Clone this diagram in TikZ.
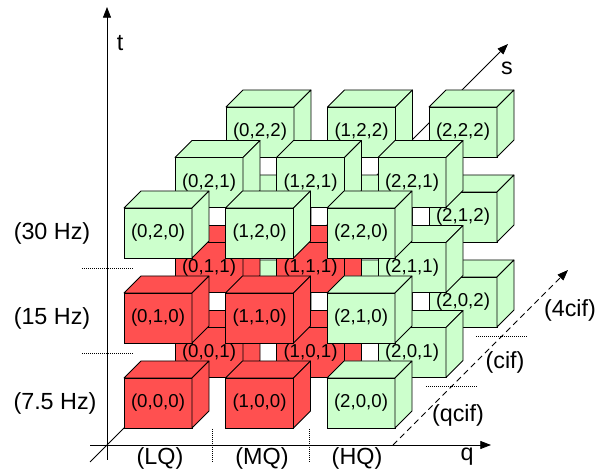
\documentclass[tikz,border=0pt]{standalone}
\usepackage{fontspec}
\setmainfont{Liberation Sans}
\usetikzlibrary{arrows.meta}
\definecolor{cgreen}{HTML}{CCFFCC}
\definecolor{cred}{HTML}{FF5050}
\begin{document}
\begin{tikzpicture}[x=0.75pt,y=-0.75pt,
  facefront/.style={draw=black, line width=0.6pt, minimum width=51pt, minimum height=37.5pt,
    inner sep=0pt, outer sep=0pt, font=\fontsize{14}{16}\selectfont, anchor=north west},
  face/.style={draw=black, line width=0.6pt, line join=round},
  axisline/.style={line width=0.6pt, -{Triangle[length=8pt,width=6pt]}},
  tickline/.style={dash pattern=on 0.75pt off 0.75pt, line width=0.75pt},
  lab/.style={font=\fontsize{17.5}{20}\selectfont, inner sep=0pt}]
\useasboundingbox (0,0) rectangle (597,473);
% axes
\coordinate (sS) at (90,462);
\coordinate (sE) at (508,44);
\coordinate (tS) at (107,460);
\coordinate (tE) at (107,7);
\coordinate (qS) at (90,445);
\coordinate (qE) at (491,445);
\coordinate (rS) at (393,445);
\coordinate (rE) at (568,270);
\draw[axisline] (sS) -- (sE);
\draw[axisline] (tS) -- (tE);
\draw[axisline] (qS) -- (qE);
\draw[axisline, dash pattern=on 4.5pt off 3pt] (rS) -- (rE);
% cubes
\foreach \s in {2,1,0}{
  \foreach \t in {2,1,0}{
    \foreach \q in {0,1,2}{
      \pgfmathtruncatemacro{\isred}{and(\q<2,and(\t<2,\s<2))}
      \pgfmathtruncatemacro{\ishid}{and(\q<2,and(\t<2,\s==2))}
      \ifnum\isred=1 \def\cc{cred}\else\def\cc{cgreen}\fi
      \ifnum\ishid=1 \def\txt{}\else\def\txt{(\q,\t,\s)}\fi
      \pgfmathsetmacro{\X}{124+101.5*\q+51*\s}
      \pgfmathsetmacro{\Y}{378-85*\t-50.5*\s}
      \node[facefront, fill=\cc] (c\q\t\s) at (\X,\Y) {\txt};
      \draw[face, fill=\cc] (c\q\t\s.north west) -- ++(17,-17) -- ++(68,0) -- (c\q\t\s.north east) -- cycle;
      \draw[face, fill=\cc] (c\q\t\s.north east) -- ++(17,-17) -- ++(0,50) -- (c\q\t\s.south east) -- cycle;
    }
  }
}
% ticks
\coordinate (la1) at (82,269); \coordinate (la2) at (133,269);
\coordinate (lb1) at (82,354); \coordinate (lb2) at (133,354);
\coordinate (ba1) at (212,429); \coordinate (ba2) at (212,462);
\coordinate (bb1) at (309,429); \coordinate (bb2) at (309,462);
\coordinate (ra1) at (476,337); \coordinate (ra2) at (528,337);
\coordinate (rb1) at (426,387); \coordinate (rb2) at (477,387);
\draw[tickline] (la1) -- (la2);
\draw[tickline] (lb1) -- (lb2);
\draw[tickline] (ba1) -- (ba2);
\draw[tickline] (bb1) -- (bb2);
\draw[tickline] (ra1) -- (ra2);
\draw[tickline] (rb1) -- (rb2);
% labels
\node[lab] (l30) at (52,233) {(30 Hz)};
\node[lab] (l15) at (52,318) {(15 Hz)};
\node[lab] (l75) at (55,403) {(7.5 Hz)};
\node[lab] (lLQ) at (160,458) {(LQ)};
\node[lab] (lMQ) at (262,458) {(MQ)};
\node[lab] (lHQ) at (357,458) {(HQ)};
\node[lab] (lq) at (467,457) {q};
\node[lab] (lt) at (120,43) {t};
\node[lab] (ls) at (507,68) {s};
\node[lab] (l4cif) at (570,310) {(4cif)};
\node[lab] (lcif) at (505,362) {(cif)};
\node[lab] (lqcif) at (458,415) {(qcif)};
\end{tikzpicture}
\end{document}
